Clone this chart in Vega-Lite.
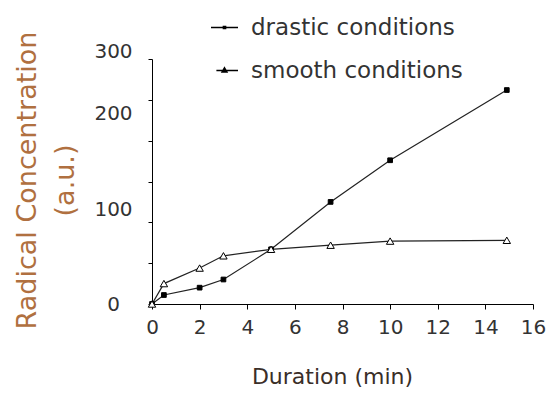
{
  "$schema": "https://vega.github.io/schema/vega-lite/v6.json",
  "width": 381,
  "height": 245,
  "autosize": "none",
  "padding": {"left": 152, "top": 59, "right": 27, "bottom": 89},
  "background": "white",
  "config": {
    "view": {"stroke": null},
    "font": "DejaVu Sans",
    "axis": {"domainColor": "black", "tickColor": "black", "grid": false, "labelFont": "DejaVu Sans", "titleFont": "DejaVu Sans"}
  },
  "data": {
    "values": [
      {"series": "drastic conditions", "t": 0, "v": 0},
      {"series": "drastic conditions", "t": 0.5, "v": 11},
      {"series": "drastic conditions", "t": 2, "v": 20},
      {"series": "drastic conditions", "t": 3, "v": 30},
      {"series": "drastic conditions", "t": 5, "v": 67},
      {"series": "drastic conditions", "t": 7.5, "v": 125},
      {"series": "drastic conditions", "t": 10, "v": 176},
      {"series": "drastic conditions", "t": 14.9, "v": 262},
      {"series": "smooth conditions", "t": 0, "v": 0},
      {"series": "smooth conditions", "t": 0.5, "v": 25},
      {"series": "smooth conditions", "t": 2, "v": 44},
      {"series": "smooth conditions", "t": 3, "v": 59},
      {"series": "smooth conditions", "t": 5, "v": 67},
      {"series": "smooth conditions", "t": 7.5, "v": 72},
      {"series": "smooth conditions", "t": 10, "v": 77},
      {"series": "smooth conditions", "t": 14.9, "v": 78}
    ]
  },
  "encoding": {
    "x": {
      "field": "t", "type": "quantitative",
      "scale": {"domain": [0, 16], "nice": false},
      "axis": {
        "values": [0, 2, 4, 6, 8, 10, 12, 14, 16],
        "tickSize": 5, "labelFontSize": 20, "labelColor": "#333333", "labelPadding": 8, "labelFlush": false,
        "title": "Duration (min)", "titleFontSize": 22, "titleFontWeight": "normal", "titleColor": "#3a2e28",
        "titleX": 180, "titleY": 72, "titleBaseline": "middle", "titleAnchor": null
      }
    },
    "y": {
      "field": "v", "type": "quantitative",
      "scale": {"domain": [0, 300], "nice": false},
      "axis": {
        "values": [0, 50, 100, 150, 200, 250, 300],
        "tickSize": 4,
        "labelExpr": "datum.value % 100 == 0 ? datum.label : ''",
        "labelFontSize": 20, "labelColor": "#333333", "labelAlign": "center", "labelPadding": 35,
        "labelOffset": {
          "condition": [
            {"test": "datum.value == 100", "value": -13},
            {"test": "datum.value == 200", "value": -27},
            {"test": "datum.value == 300", "value": -8}
          ],
          "value": 0
        },
        "title": ["Radical Concentration", "(a.u.)"],
        "titleFontSize": 27, "titleFontWeight": "normal", "titleColor": "#b07040",
        "titleLineHeight": 38, "titleAngle": -90, "titleAlign": "center", "titleBaseline": "middle",
        "titleX": -125, "titleY": 121
      }
    }
  },
  "resolve": {"scale": {"shape": "independent"}},
  "layer": [
    {
      "mark": {"type": "line", "color": "#222222", "strokeWidth": 1.2},
      "encoding": {"detail": {"field": "series"}}
    },
    {
      "mark": {"type": "point", "opacity": 1, "strokeWidth": 1, "stroke": "black"},
      "encoding": {
        "shape": {
          "field": "series", "type": "nominal",
          "scale": {"domain": ["drastic conditions", "smooth conditions"], "range": ["square", "triangle-up"]},
          "legend": null
        },
        "fill": {
          "field": "series", "type": "nominal",
          "scale": {"domain": ["drastic conditions", "smooth conditions"], "range": ["black", "white"]},
          "legend": null
        },
        "size": {
          "field": "series", "type": "nominal",
          "scale": {"domain": ["drastic conditions", "smooth conditions"], "range": [22, 55]},
          "legend": null
        }
      }
    },
    {
      "transform": [{"filter": "false"}],
      "mark": {"type": "point", "opacity": 1, "fill": "black", "stroke": "black", "strokeWidth": 1.2},
      "encoding": {
        "shape": {
          "field": "series", "type": "nominal",
          "scale": {
            "domain": ["drastic conditions", "smooth conditions"],
            "range": ["M-1,0H1M-0.08,-0.08H0.08V0.08H-0.08Z", "M-0.6,0H1M0,-0.2L0.18,0.12H-0.18Z"]
          },
          "legend": {
            "title": null, "orient": "none", "legendX": 58, "legendY": -46,
            "labelFontSize": 23, "labelColor": "#333333", "labelOffset": 12, "labelLimit": 400,
            "symbolSize": 729, "rowPadding": 16
          }
        }
      }
    }
  ]
}
